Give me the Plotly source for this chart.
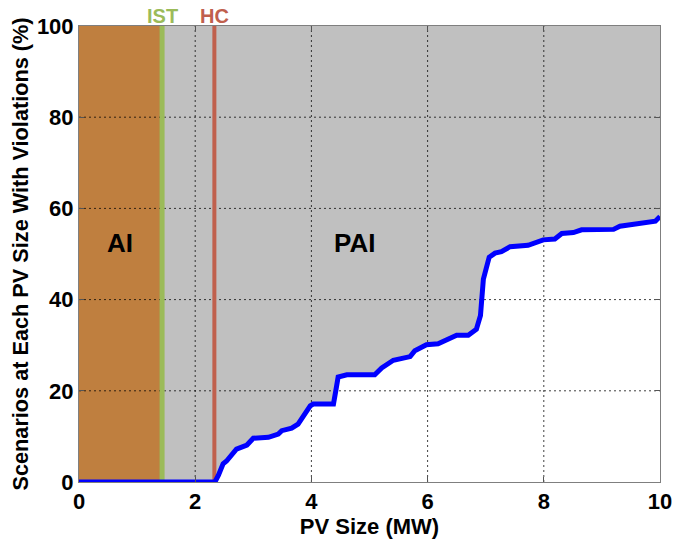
import plotly.graph_objects as go

# ---- data ----
pv_size = [0, 2.34, 2.40, 2.48, 2.54, 2.71, 2.89, 3.00, 3.26, 3.43, 3.49, 3.66, 3.77, 3.98,
           4.03, 4.38, 4.42, 4.46, 4.61, 5.09, 5.21, 5.41, 5.70, 5.78, 5.98, 6.18, 6.50,
           6.70, 6.84, 6.91, 6.96, 7.06, 7.16, 7.27, 7.42, 7.73, 7.99, 8.19, 8.31, 8.51,
           8.65, 9.20, 9.31, 9.54, 9.86, 9.92, 10.0]
violations = [0, 0, 1.5, 4.0, 4.6, 7.2, 8.1, 9.6, 9.8, 10.5, 11.25, 11.8, 12.7, 16.7,
              17.1, 17.1, 20.0, 23.0, 23.5, 23.5, 25.0, 26.7, 27.5, 28.8, 30.1, 30.3, 32.2,
              32.2, 33.5, 36.5, 44.5, 49.3, 50.2, 50.5, 51.6, 51.9, 53.1, 53.3, 54.5, 54.7,
              55.3, 55.4, 56.1, 56.5, 56.9, 57.2, 58.2]
ist_value = 1.43
hc_value = 2.33
x_ticks = [0, 2, 4, 6, 8, 10]
y_ticks = [0, 20, 40, 60, 80, 100]
x_range = [0, 10]
y_range = [0, 100]

FONT = "Liberation Sans, Arial, sans-serif"
BROWN = "#BF7F3F"
GRAY = "#C0C0C0"
GREEN = "#9BBB59"
RED = "#C0604D"

fig = go.Figure()

# gray region above the curve (PAI)
fig.add_trace(go.Scatter(
    x=pv_size + [x_range[1], x_range[0]],
    y=violations + [y_range[1], y_range[1]],
    fill="toself", fillcolor=GRAY, mode="none", hoverinfo="skip", showlegend=False))

# brown region (AI)
fig.add_trace(go.Scatter(
    x=[x_range[0], ist_value, ist_value, x_range[0]],
    y=[y_range[0], y_range[0], y_range[1], y_range[1]],
    fill="toself", fillcolor=BROWN, mode="none", hoverinfo="skip", showlegend=False))

# dotted gridlines (drawn above fills)
for xv in x_ticks[1:-1]:
    fig.add_trace(go.Scatter(x=[xv, xv], y=y_range, mode="lines",
                             line=dict(color="rgba(0,0,0,0.75)", width=1, dash="2px,3px"),
                             hoverinfo="skip", showlegend=False))
for yv in y_ticks[1:-1]:
    fig.add_trace(go.Scatter(x=x_range, y=[yv, yv], mode="lines",
                             line=dict(color="rgba(0,0,0,0.75)", width=1, dash="2px,3px"),
                             hoverinfo="skip", showlegend=False))

# IST and HC lines
fig.add_trace(go.Scatter(x=[ist_value, ist_value], y=y_range, mode="lines",
                         line=dict(color=GREEN, width=5), hoverinfo="skip", showlegend=False))
fig.add_trace(go.Scatter(x=[hc_value, hc_value], y=y_range, mode="lines",
                         line=dict(color=RED, width=4), hoverinfo="skip", showlegend=False))

# main curve
fig.add_trace(go.Scatter(x=pv_size, y=violations, mode="lines",
                         line=dict(color="#0000FF", width=5), showlegend=False))

# annotations
fig.add_annotation(x=0.7, y=52.5, text="<b>AI</b>", showarrow=False,
                   font=dict(family=FONT, size=26, color="black"))
fig.add_annotation(x=4.75, y=52.5, text="<b>PAI</b>", showarrow=False,
                   font=dict(family=FONT, size=26, color="black"))
fig.add_annotation(x=ist_value, y=1, yref="paper", yanchor="bottom", yshift=-3,
                   text="<b>IST</b>", showarrow=False,
                   font=dict(family=FONT, size=20, color=GREEN))
fig.add_annotation(x=hc_value, y=1, yref="paper", yanchor="bottom", yshift=-3,
                   text="<b>HC</b>", showarrow=False,
                   font=dict(family=FONT, size=20, color=RED))

axis_common = dict(
    showgrid=False, zeroline=False, showline=True, linecolor="#7F7F7F", linewidth=1,
    mirror="ticks", ticks="inside", ticklen=5, tickcolor="#555555", automargin=False,
    tickfont=dict(family=FONT, size=22, color="black", weight="bold"),
)

fig.update_layout(
    width=673, height=540,
    margin=dict(l=79, r=13, t=26, b=58),
    paper_bgcolor="white", plot_bgcolor="white",
    xaxis=dict(range=x_range, tickvals=x_ticks, ticktext=[str(v) for v in x_ticks],
               ticklabelstandoff=0,
               title=dict(text="<b>PV Size (MW)</b>", standoff=0,
                          font=dict(family=FONT, size=22, color="black")),
               **axis_common),
    yaxis=dict(range=y_range, tickvals=y_ticks, ticktext=[str(v) for v in y_ticks],
               title=dict(text="<b>Scenarios at Each PV Size With Violations (%)</b>", standoff=2,
                          font=dict(family=FONT, size=21.7, color="black")),
               **axis_common),
)

fig.write_html("out.html")
